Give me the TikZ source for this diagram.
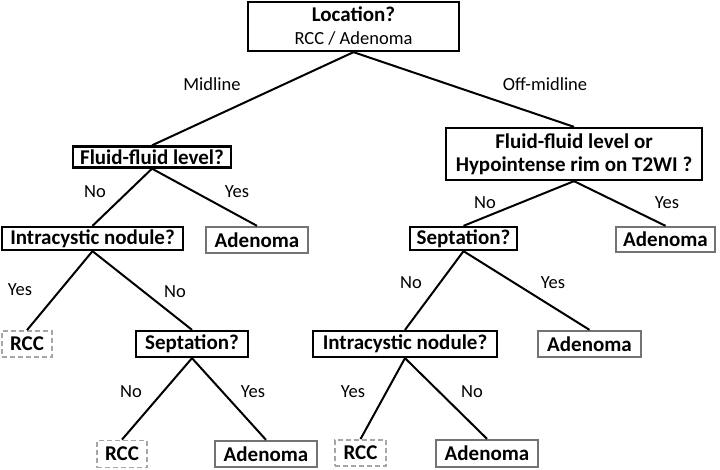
\documentclass[tikz,border=0pt]{standalone}
\usepackage{fontspec}
\setmainfont{Carlito}
\begin{document}
\begin{tikzpicture}[x=1pt,y=-1pt,
  q/.style={draw=black,line width=2.3pt,rectangle,inner sep=0pt,font=\fontsize{21}{24}\selectfont\bfseries,align=center},
  res/.style={draw=black!55,line width=2.3pt,rectangle,inner sep=0pt,font=\fontsize{21}{24}\selectfont\bfseries},
  rcc/.style={draw=black!35,line width=1.8pt,dash pattern=on 5pt off 3pt,rectangle,inner sep=0pt,font=\fontsize{21}{24}\selectfont\bfseries},
  lbl/.style={font=\fontsize{18.5}{21}\selectfont,inner sep=0pt},
  edge/.style={line width=2pt,black}]
\useasboundingbox (0,0) rectangle (720,469);
% question nodes
\node[q,minimum width=211pt,minimum height=49pt] (top) at (353.5,26.5) {Location?\\[-1pt]{\mdseries\fontsize{18.5}{21}\selectfont RCC / Adenoma}};
\node[q,minimum width=158pt,minimum height=21pt] (lf) at (152,157) {Fluid-fluid level?};
\node[q,minimum width=256pt,minimum height=52pt] (rf) at (574,154) {Fluid-fluid level or\\[-1pt]Hypointense rim on T2WI ?};
\node[q,minimum width=181pt,minimum height=23pt] (li) at (92.5,238.5) {Intracystic nodule?};
\node[q,minimum width=112pt,minimum height=26pt] (ls) at (192,344) {Septation?};
\node[q,minimum width=107pt,minimum height=23pt] (rs) at (463.5,238.5) {Septation?};
\node[q,minimum width=184pt,minimum height=26pt] (ri) at (405,344) {Intracystic nodule?};
% results
\node[res,minimum width=102pt,minimum height=26pt] (la1) at (257,240) {Adenoma};
\node[rcc,minimum width=50pt,minimum height=26pt] (lr1) at (27,344) {RCC};
\node[rcc,minimum width=50pt,minimum height=27pt] (lr2) at (122,454) {RCC};
\node[res,minimum width=102pt,minimum height=26pt] (la2) at (266,454) {Adenoma};
\node[res,minimum width=99pt,minimum height=25pt] (ra1) at (665.5,239.5) {Adenoma};
\node[res,minimum width=103pt,minimum height=26pt] (ra2) at (589.5,344) {Adenoma};
\node[rcc,minimum width=51pt,minimum height=26pt] (rr) at (360.5,453) {RCC};
\node[res,minimum width=102pt,minimum height=27pt] (ra3) at (487,453.5) {Adenoma};
% connectors
\draw[edge] (top.south) -- (lf.north);
\draw[edge] (top.south) -- (rf.north);
\draw[edge] (lf.south) -- (li.north);
\draw[edge] (lf.south) -- (la1.north);
\draw[edge] (li.south) -- (lr1.north);
\draw[edge] (li.south) -- (ls.north);
\draw[edge] (ls.south) -- (lr2.north);
\draw[edge] (ls.south) -- (la2.north);
\draw[edge] (rf.south) -- (rs.north);
\draw[edge] (rf.south) -- (ra1.north);
\draw[edge] (rs.south) -- (ri.north);
\draw[edge] (rs.south) -- (ra2.north);
\draw[edge] (ri.south) -- (rr.north);
\draw[edge] (ri.south) -- (ra3.north);
% labels
\node[lbl] (l1) at (212,84) {Midline};
\node[lbl] (l2) at (545,84) {Off-midline};
\node[lbl] (l3) at (95,192) {No};
\node[lbl] (l4) at (237,192) {Yes};
\node[lbl] (l5) at (485,203) {No};
\node[lbl] (l6) at (667,203) {Yes};
\node[lbl] (l7) at (20,290) {Yes};
\node[lbl] (l8) at (175,292) {No};
\node[lbl] (l9) at (411,283) {No};
\node[lbl] (l10) at (553,283) {Yes};
\node[lbl] (l11) at (131,392) {No};
\node[lbl] (l12) at (253,392) {Yes};
\node[lbl] (l13) at (353,392) {Yes};
\node[lbl] (l14) at (472,392) {No};
\end{tikzpicture}
\end{document}
